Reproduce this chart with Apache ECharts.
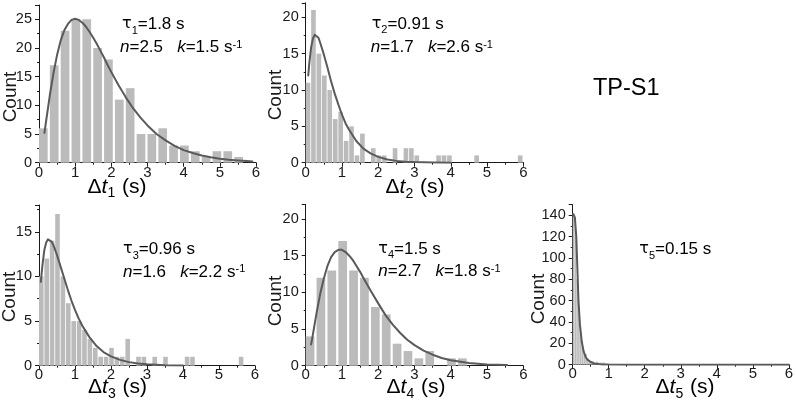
<!DOCTYPE html>
<html><head><meta charset="utf-8">
<script src="https://cdn.jsdelivr.net/npm/echarts@6/dist/echarts.min.js"></script>
<style>html,body{margin:0;padding:0;background:#fff}#c{width:796px;height:403px}</style>
</head><body><div id="c"></div>
<script>
// ---- data ----
const xTickValues = [0, 1, 2, 3, 4, 5, 6];

// panel 1: Δt1, bins of 0.3 s
const binWidth1 = 0.3;
const counts1 = [6, 17, 23, 25, 25, 20, 18, 11, 13, 5, 5, 6, 3, 3, 2, 1, 2, 2, 1, 0];
const curve1 = [[0.15, 5.2], [0.2, 7.4], [0.3, 11.8], [0.4, 15.6], [0.5, 18.8], [0.6, 21.3], [0.7, 23.1], [0.8, 24.2], [0.9, 24.9], [1.0, 25.1], [1.1, 24.9], [1.2, 24.4], [1.3, 23.7], [1.4, 22.8], [1.5, 21.8], [1.6, 20.7], [1.7, 19.5], [1.8, 18.3], [1.9, 17.0], [2.0, 15.8], [2.2, 13.5], [2.4, 11.4], [2.6, 9.5], [2.8, 7.9], [3.0, 6.5], [3.25, 5.0], [3.5, 3.9], [3.75, 2.95], [4.0, 2.2], [4.25, 1.7], [4.5, 1.25], [4.75, 0.95], [5.0, 0.7], [5.25, 0.5], [5.5, 0.38], [5.75, 0.28], [5.9, 0.23]];

// panel 2: Δt2, bins of 0.15 s
const binWidth2 = 0.15;
const counts2 = [11, 21, 15, 12, 10, 6, 7, 3, 5, 1, 4, 0, 2, 1, 1, 0, 2, 0, 2, 2, 1, 0, 0, 0, 1, 1, 1, 0, 0, 0, 0, 1, 0, 0, 0, 0, 0, 0, 0, 1];
const curve2 = [[0.07, 12.0], [0.1, 13.7], [0.15, 15.9], [0.2, 17.1], [0.25, 17.6], [0.3, 17.55], [0.35, 17.2], [0.4, 16.5], [0.5, 14.9], [0.6, 13.1], [0.7, 11.2], [0.8, 9.5], [0.9, 8.0], [1.0, 6.6], [1.1, 5.4], [1.2, 4.5], [1.4, 2.95], [1.6, 1.9], [1.8, 1.25], [2.0, 0.8], [2.25, 0.45], [2.5, 0.25], [2.75, 0.14], [3.0, 0.08], [3.5, 0.02], [4.0, 0.01]];

// panel 3: Δt3, bins of 0.15 s
const binWidth3 = 0.15;
const counts3 = [10, 12, 14, 17, 10, 7, 5, 5, 4, 3, 2, 1, 1, 2, 1, 1, 3, 0, 1, 1, 0, 1, 0, 1, 0, 0, 0, 1, 1, 0, 0, 0, 0, 0, 0, 0, 0, 1, 0, 0];
const curve3 = [[0.05, 9.4], [0.1, 11.4], [0.15, 13.0], [0.2, 13.8], [0.25, 14.15], [0.3, 14.15], [0.35, 13.9], [0.4, 13.5], [0.5, 12.4], [0.6, 11.1], [0.7, 9.8], [0.8, 8.5], [0.9, 7.3], [1.0, 6.25], [1.1, 5.3], [1.2, 4.5], [1.4, 3.2], [1.6, 2.2], [1.8, 1.5], [2.0, 1.05], [2.25, 0.65], [2.5, 0.4], [2.75, 0.24], [3.0, 0.15], [3.5, 0.05], [4.0, 0.02]];

// panel 4: Δt4, bins of 0.3 s
const binWidth4 = 0.3;
const counts4 = [4, 12, 13, 17, 13, 12, 8, 7, 3, 2, 1, 2, 0, 1, 1, 0, 0, 0, 0, 0];
const curve4 = [[0.15, 2.9], [0.2, 4.3], [0.3, 7.2], [0.4, 9.8], [0.5, 11.9], [0.6, 13.6], [0.7, 14.8], [0.8, 15.5], [0.9, 15.8], [1.0, 15.8], [1.1, 15.5], [1.2, 15.0], [1.3, 14.4], [1.4, 13.6], [1.5, 12.8], [1.6, 11.9], [1.8, 10.15], [2.0, 8.5], [2.2, 6.9], [2.4, 5.6], [2.6, 4.5], [2.8, 3.55], [3.0, 2.8], [3.25, 2.05], [3.5, 1.5], [3.75, 1.05], [4.0, 0.75], [4.5, 0.37], [5.0, 0.18], [5.55, 0.08]];

// panel 5: Δt5, bins of 0.05 s
const binWidth5 = 0.05;
const counts5 = [142, 138, 80, 50, 30, 18, 10, 10, 6, 4, 3, 3, 2, 3, 2, 2, 2, 2, 1];
const curve5 = [[0.02, 141], [0.06, 138], [0.1, 120], [0.13, 90], [0.16, 60], [0.2, 38], [0.25, 22], [0.3, 13], [0.35, 8], [0.4, 5], [0.5, 2.5], [0.6, 1.2], [0.8, 0.3], [1.0, 0.1], [1.5, 0], [6, 0]];

// y axes
const yMax = [27.5, 22, 18, 22, 150];
const yInterval = [5, 5, 5, 5, 20];

// annotations
const tauLabels = ['1.8', '0.91', '0.96', '1.5', '0.15'];
const nValues = ['2.5', '1.7', '1.6', '2.7', null];
const kValues = ['1.5', '2.6', '2.2', '1.8', null];
const panelTitle = 'TP-S1';

// ---- styling / layout ----
const FONT = '"Liberation Sans", Arial, sans-serif';
const BAR = '#bbbbbb';
const CURVE = '#5a5a5a';
const ANN = '#5e5e5e';
const AX = '#1a1a1a';

const grids = [
  {left: 39, top: 5, width: 217, height: 157.7},
  {left: 305.7, top: 2.8, width: 217.6, height: 159.9},
  {left: 39, top: 205, width: 216, height: 160.7},
  {left: 305.7, top: 204.4, width: 217.6, height: 161.3},
  {left: 572.7, top: 204.7, width: 217.3, height: 160}
];
const xLabelMargin = [3, 3, 2, 2, 2];

const panels = [
  {counts: counts1, bw: binWidth1, frac: 0.8, curve: curve1},
  {counts: counts2, bw: binWidth2, frac: 0.85, curve: curve2},
  {counts: counts3, bw: binWidth3, frac: 0.85, curve: curve3},
  {counts: counts4, bw: binWidth4, frac: 0.8, curve: curve4},
  {counts: counts5, bw: binWidth5, frac: 0.85, curve: curve5}
];

function xAxis(i) {
  return {
    gridIndex: i, type: 'value', min: xTickValues[0], max: xTickValues[xTickValues.length - 1], interval: 1,
    axisLine: {show: true, onZero: false, lineStyle: {color: AX, width: 1}},
    axisTick: {show: true, length: 4, lineStyle: {color: AX}},
    minorTick: {show: true, splitNumber: 2, length: 2, lineStyle: {color: AX}},
    splitLine: {show: false}, minorSplitLine: {show: false},
    axisLabel: {fontSize: 15, color: AX, margin: xLabelMargin[i], fontFamily: FONT}
  };
}
function yAxis(i) {
  return {
    gridIndex: i, type: 'value', min: 0, max: yMax[i], interval: yInterval[i],
    axisLine: {show: true, onZero: false, lineStyle: {color: AX, width: 1}},
    axisTick: {show: true, length: 4, lineStyle: {color: AX}},
    minorTick: {show: true, splitNumber: 2, length: 2, lineStyle: {color: AX}},
    splitLine: {show: false}, minorSplitLine: {show: false},
    axisLabel: {fontSize: 14.5, color: AX, margin: 7, fontFamily: FONT, showMaxLabel: false}
  };
}

const series = [];
panels.forEach((p, i) => {
  series.push({
    type: 'custom', xAxisIndex: i, yAxisIndex: i, silent: true, z: 1,
    data: p.counts.map((c, k) => [k * p.bw, k * p.bw + p.bw * p.frac, c]),
    encode: {x: [0, 1], y: 2},
    renderItem: function (params, api) {
      const a = api.coord([api.value(0), api.value(2)]);
      const b = api.coord([api.value(1), 0]);
      return {type: 'rect', shape: {x: a[0], y: a[1], width: b[0] - a[0], height: b[1] - a[1]}, style: {fill: BAR}};
    }
  });
  series.push({
    type: 'line', xAxisIndex: i, yAxisIndex: i, silent: true, z: 3,
    data: p.curve, showSymbol: false, smooth: false,
    lineStyle: {color: CURVE, width: 2, join: 'round', cap: 'round'}
  });
});

const annRich = {
  g: {fontSize: 17, lineHeight: 20, verticalAlign: 'top', color: ANN, fontFamily: FONT},
  i: {fontSize: 17, lineHeight: 20, verticalAlign: 'top', color: ANN, fontFamily: FONT, fontStyle: 'italic'},
  tau: {fontSize: 16, lineHeight: 20, verticalAlign: 'top', color: ANN, fontFamily: '"DejaVu Sans", sans-serif'},
  sub: {fontSize: 11, lineHeight: 12, verticalAlign: 'top', color: ANN, fontFamily: FONT, padding: [9, 0, 0, 0]},
  sup: {fontSize: 11, lineHeight: 12, verticalAlign: 'top', color: ANN, fontFamily: FONT, padding: [0, 0, 0, 0]}
};
const titleRich = {
  g: {fontSize: 21, lineHeight: 23, verticalAlign: 'top', color: AX, fontFamily: FONT},
  i: {fontSize: 21, lineHeight: 23, verticalAlign: 'top', color: AX, fontFamily: FONT, fontStyle: 'italic'},
  sub: {fontSize: 14, lineHeight: 14, verticalAlign: 'top', color: AX, fontFamily: FONT, padding: [10, 1, 0, 0]}
};

const annPos = [
  [[122, 16], [120, 39]],
  [[371.7, 15.4], [370.7, 39]],
  [[123, 241], [123, 263.5]],
  [[378.3, 240.4], [378.3, 263]],
  [[639.3, 241], null]
];
const xTitlePos = [[117, 176.5], [415, 177], [117.5, 377], [416, 377], [685, 377]];
const countPos = [[11, 97], [276, 95], [10, 297], [276, 301], [539, 299]];

const graphic = [];
for (let i = 0; i < 5; i++) {
  graphic.push({type: 'text', x: annPos[i][0][0], y: annPos[i][0][1], silent: true,
    style: {text: '{tau|τ}{sub|' + (i + 1) + '}{g|=' + tauLabels[i] + ' s}', rich: annRich, verticalAlign: 'top', align: 'left'}});
  if (nValues[i] !== null) {
    graphic.push({type: 'text', x: annPos[i][1][0], y: annPos[i][1][1], silent: true,
      style: {text: '{i|n}{g|=' + nValues[i] + '   }{i|k}{g|=' + kValues[i] + ' s}{sup|-1}', rich: annRich, verticalAlign: 'top', align: 'left'}});
  }
  graphic.push({type: 'text', x: xTitlePos[i][0], y: xTitlePos[i][1], silent: true,
    style: {text: '{g|Δ}{i|t}{sub|' + (i + 1) + '}{g| (s)}', rich: titleRich, verticalAlign: 'top', align: 'center'}});
  graphic.push({type: 'text', x: countPos[i][0], y: countPos[i][1], rotation: Math.PI / 2, silent: true,
    style: {text: 'Count', fontSize: 19, fontFamily: FONT, fill: AX, align: 'center', verticalAlign: 'middle'}});
}
graphic.push({type: 'text', x: 593, y: 89, silent: true,
  style: {text: panelTitle, fontSize: 23.5, fontFamily: FONT, fill: '#000', align: 'left', verticalAlign: 'middle'}});

const chart = echarts.init(document.getElementById('c'), null, {renderer: 'canvas'});
chart.setOption({
  animation: false,
  backgroundColor: '#fff',
  grid: grids.map(g => Object.assign({containLabel: false}, g)),
  xAxis: [0, 1, 2, 3, 4].map(xAxis),
  yAxis: [0, 1, 2, 3, 4].map(yAxis),
  series: series,
  graphic: graphic
});
</script></body></html>
